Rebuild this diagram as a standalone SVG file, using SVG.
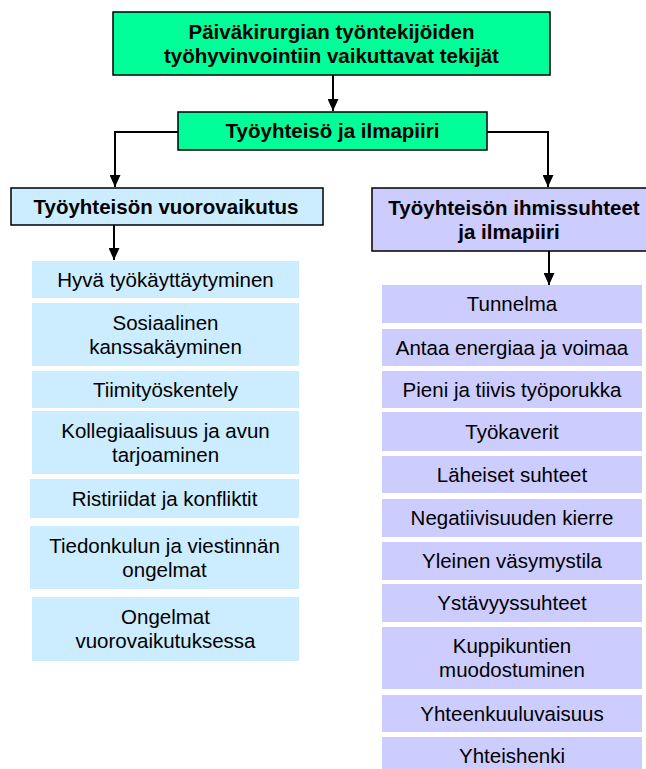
<svg xmlns="http://www.w3.org/2000/svg" width="646" height="769" viewBox="0 0 646 769">
<defs>
<marker id="ah" markerUnits="userSpaceOnUse" markerWidth="12" markerHeight="11" refX="12" refY="5.5" orient="auto">
<path d="M0,0 L12,5.5 L0,11 z" fill="#000"/>
</marker>
<style>
.t{font-family:"Liberation Sans",Arial,sans-serif;font-size:20.5px;fill:#000;text-anchor:middle}
.b{font-weight:bold}
.hd{stroke:#000;stroke-width:1.5}
.g{fill:#00FF99}
.lb{fill:#CCECFF}
.lv{fill:#CCCCFF}
.c{fill:none;stroke:#000;stroke-width:2}
</style>
</defs>
<rect width="646" height="769" fill="#fff"/>
<g id="connectors">
<path class="c" d="M333,75 V111" marker-end="url(#ah)"/>
<path class="c" d="M178,132 H115 V187" marker-end="url(#ah)"/>
<path class="c" d="M487,132 H548 V187" marker-end="url(#ah)"/>
<path class="c" d="M114,225 V260" marker-end="url(#ah)"/>
<path class="c" d="M549,251 V285" marker-end="url(#ah)"/>
</g>
<g id="title">
<rect class="g hd" x="113" y="12" width="437" height="63"/>
<text class="t b" x="331.5" y="39">Päiväkirurgian työntekijöiden</text>
<text class="t b" x="331.5" y="63">työhyvinvointiin vaikuttavat tekijät</text>
</g>
<g id="tyoyhteiso">
<rect class="g hd" x="178" y="112" width="309" height="38"/>
<text class="t b" x="332.5" y="138">Työyhteisö ja ilmapiiri</text>
</g>
<g id="vuorovaikutus">
<rect class="lb hd" x="11" y="188" width="312" height="37"/>
<text class="t b" x="166" y="214">Työyhteisön vuorovaikutus</text>
</g>
<g id="ihmissuhteet">
<rect class="lv hd" x="372" y="188" width="290" height="63"/>
<text class="t b" x="514" y="214.5">Työyhteisön ihmissuhteet</text>
<text class="t b" x="509" y="238.5">ja ilmapiiri</text>
</g>
<g id="l1"><rect class="lb" x="32" y="261" width="267" height="37"/><text class="t" x="165.5" y="287">Hyvä työkäyttäytyminen</text></g>
<g id="l2"><rect class="lb" x="32" y="303" width="267" height="63"/><text class="t" x="165.5" y="329.5">Sosiaalinen</text><text class="t" x="165.5" y="353.5">kanssakäyminen</text></g>
<g id="l3"><rect class="lb" x="32" y="371" width="267" height="37"/><text class="t" x="165.5" y="396.5">Tiimityöskentely</text></g>
<g id="l4"><rect class="lb" x="32" y="411" width="267" height="63"/><text class="t" x="165.5" y="437.5">Kollegiaalisuus ja avun</text><text class="t" x="165.5" y="461.5">tarjoaminen</text></g>
<g id="l5"><rect class="lb" x="30" y="479" width="269" height="39"/><text class="t" x="164.5" y="505.5">Ristiriidat ja konfliktit</text></g>
<g id="l6"><rect class="lb" x="30" y="526" width="269" height="63"/><text class="t" x="164.5" y="552.5">Tiedonkulun ja viestinnän</text><text class="t" x="164.5" y="576.5">ongelmat</text></g>
<g id="l7"><rect class="lb" x="32" y="597" width="267" height="64"/><text class="t" x="165.5" y="624">Ongelmat</text><text class="t" x="165.5" y="648">vuorovaikutuksessa</text></g>
<g id="r1"><rect class="lv" x="382" y="285" width="260" height="38"/><text class="t" x="512" y="311">Tunnelma</text></g>
<g id="r2"><rect class="lv" x="382" y="329" width="260" height="37"/><text class="t" x="512" y="354.5">Antaa energiaa ja voimaa</text></g>
<g id="r3"><rect class="lv" x="382" y="371" width="260" height="37"/><text class="t" x="512" y="396.5">Pieni ja tiivis työporukka</text></g>
<g id="r4"><rect class="lv" x="382" y="412" width="260" height="39"/><text class="t" x="512" y="438.5">Työkaverit</text></g>
<g id="r5"><rect class="lv" x="382" y="456" width="260" height="37"/><text class="t" x="512" y="481.5">Läheiset suhteet</text></g>
<g id="r6"><rect class="lv" x="382" y="499" width="260" height="38"/><text class="t" x="512" y="525">Negatiivisuuden kierre</text></g>
<g id="r7"><rect class="lv" x="382" y="542" width="260" height="38"/><text class="t" x="512" y="568">Yleinen väsymystila</text></g>
<g id="r8"><rect class="lv" x="382" y="584" width="260" height="38"/><text class="t" x="512" y="610">Ystävyyssuhteet</text></g>
<g id="r9"><rect class="lv" x="382" y="627" width="260" height="62"/><text class="t" x="512" y="653">Kuppikuntien</text><text class="t" x="512" y="677">muodostuminen</text></g>
<g id="r10"><rect class="lv" x="382" y="695" width="260" height="37"/><text class="t" x="512" y="720.5">Yhteenkuuluvaisuus</text></g>
<g id="r11"><rect class="lv" x="382" y="737" width="260" height="40"/><text class="t" x="512" y="763">Yhteishenki</text></g>
</svg>
